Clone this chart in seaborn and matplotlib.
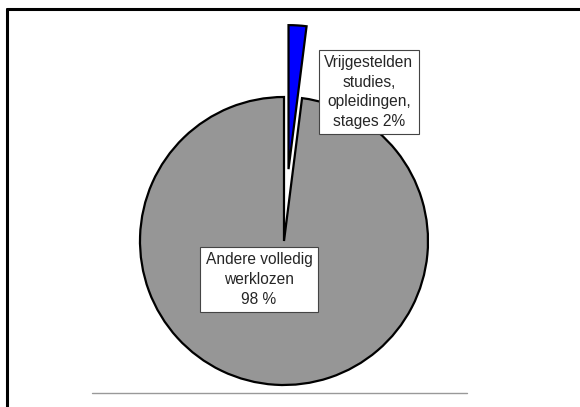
"""
Pie chart: share of exempted unemployed (studies, training, internships)
among all fully unemployed.
"""

import matplotlib
matplotlib.use("Agg")
import matplotlib.pyplot as plt
from matplotlib.lines import Line2D
import seaborn as sns

# Data
categories = ["Vrijgestelden\nstudies,\nopleidingen,\nstages 2%",
              "Andere volledig\nwerklozen\n98 %"]
shares = [2, 98]
slice_colors = ["#0000FF", "#969696"]

W, H = 580, 407

sns.set_theme(style="white")
plt.rcParams["font.family"] = ["Liberation Sans", "DejaVu Sans"]

fig = plt.figure(figsize=(W / 100, H / 100), dpi=100)
ax = fig.add_axes([0, 0, 1, 1])

radius = 144
center = (284, H - 241)
ax.pie(shares, colors=slice_colors, startangle=90, counterclock=False,
       explode=[0.5 * radius, 0], radius=radius, center=center,
       wedgeprops=dict(edgecolor="black", linewidth=1.6))
ax.set_xlim(0, W)
ax.set_ylim(0, H)
ax.set_aspect("equal")
ax.axis("off")

# label boxes
box = dict(boxstyle="square,pad=0.36", facecolor="white",
           edgecolor="#444444", linewidth=0.8)
ax.text(369, H - 92, categories[0], ha="center", va="center",
        fontsize=11.2, linespacing=1.38, bbox=box)
ax.text(259, H - 279.5, categories[1], ha="center", va="center",
        fontsize=11.2, linespacing=1.38, bbox=box)

# slide frame (top and left) and footer rule
fig.add_artist(Line2D([6.5 / W, 1], [1 - 8.5 / H, 1 - 8.5 / H],
                      transform=fig.transFigure, color="black", lw=2.2))
fig.add_artist(Line2D([6.5 / W, 6.5 / W], [0, 1 - 8.5 / H],
                      transform=fig.transFigure, color="black", lw=2.2))
fig.add_artist(Line2D([92 / W, 467 / W], [1 - 393 / H, 1 - 393 / H],
                      transform=fig.transFigure, color="#999999", lw=1))

fig.savefig("out.png", dpi=100)
plt.close(fig)
